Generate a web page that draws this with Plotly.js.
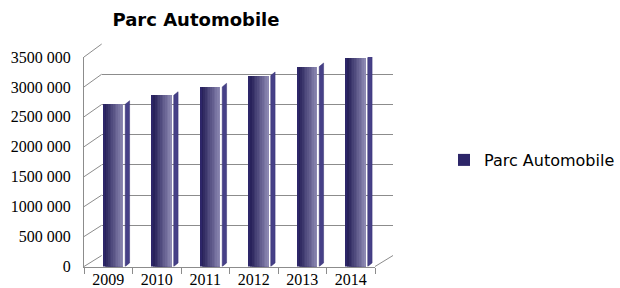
<!DOCTYPE html>
<html>
<head>
<meta charset="utf-8">
<script src="https://cdn.plot.ly/plotly-3.0.1.min.js"></script>
<style>html,body{margin:0;padding:0;background:#fff;}#chart{width:620px;height:288px;}</style>
</head>
<body>
<div id="chart"></div>
<script>
// ---- data ----
const years = ['2009', '2010', '2011', '2012', '2013', '2014'];
const parc = [2710000, 2860000, 3000000, 3190000, 3340000, 3490000];
const seriesName = 'Parc Automobile';
const yTickVals = [0, 500000, 1000000, 1500000, 2000000, 2500000, 3000000, 3500000];
const yTickText = ['0', '500 000', '1000 000', '1500 000', '2000 000', '2500 000', '3000 000', '3500 000'];

// ---- geometry (paper fractions) ----
const W = 620, H = 288;
const px = v => v / W, py = v => (H - v) / H;
const front = {x0: px(84), x1: px(375), y0: py(266.5), y1: py(57)};
const back = {x0: px(101.7), x1: px(393), y0: py(255.5), y1: py(44)};
const yMax = 3500000;

// gradient colors
const c0 = [30, 24, 82], c1 = [140, 136, 178];
const N = 12;
const off0 = -0.11, bw = 0.42;
const traces = [];
// invisible trace for back wall subplot
traces.push({x: [0], y: [0], xaxis: 'x', yaxis: 'y', type: 'scatter', mode: 'none', showlegend: false, hoverinfo: 'skip'});
for (let k = 0; k < N; k++) {
  const t = k / (N - 1);
  const col = 'rgb(' + c0.map((c, j) => Math.round(c + (c1[j] - c) * t)).join(',') + ')';
  traces.push({
    type: 'bar', x: years, y: parc, name: seriesName,
    xaxis: 'x2', yaxis: 'y2',
    offset: off0 + k * bw / N, width: bw - k * bw / N,
    marker: {color: k === 0 ? 'rgb(45,38,105)' : col, line: {width: 0}},
    showlegend: k === 0, hoverinfo: 'skip'
  });
}
// side faces (on an overlaying linear axis that matches the category positions)
const sx = [], sy = [];
const dv = 60000;
years.forEach((yr, i) => {
  sx.push(i + 0.35, i + 0.35, i + 0.44, i + 0.44, i + 0.35, null);
  sy.push(0, parc[i], parc[i] + dv, dv, 0, null);
});
traces.push({type: 'scatter', x: sx, y: sy, xaxis: 'x3', yaxis: 'y2', mode: 'lines', fill: 'toself',
  fillcolor: 'rgb(70,64,135)', line: {width: 0.5, color: 'rgb(55,48,115)'}, showlegend: false, hoverinfo: 'skip'});

// shapes: side wall diagonals + floor right edge
const shapes = [];
const gray = '#8c8c8c';
yTickVals.forEach(v => {
  const f = v / yMax;
  shapes.push({type: 'line', xref: 'paper', yref: 'paper', layer: 'below',
    x0: front.x0, y0: front.y0 + f * (front.y1 - front.y0),
    x1: back.x0, y1: back.y0 + f * (back.y1 - back.y0),
    line: {color: gray, width: 1}});
});
shapes.push({type: 'line', xref: 'paper', yref: 'paper', layer: 'below',
  x0: front.x1, y0: front.y0, x1: back.x1, y1: back.y0, line: {color: gray, width: 1}});

const serif = '"Liberation Serif", "Times New Roman", serif';
const layout = {
  width: W, height: H,
  margin: {l: 0, r: 0, t: 0, b: 0},
  paper_bgcolor: '#fff', plot_bgcolor: 'rgba(0,0,0,0)',
  showlegend: true,
  title: {text: 'Parc Automobile', x: px(196), xanchor: 'center', xref: 'paper', y: py(20), yanchor: 'middle',
    font: {family: 'DejaVu Sans', size: 18, color: '#000', weight: 'bold'}},
  xaxis: {domain: [back.x0, back.x1], anchor: 'y', range: [0, 1], showgrid: false, showline: false,
    zeroline: false, showticklabels: false, ticks: ''},
  yaxis: {domain: [back.y0, back.y1], anchor: 'x', range: [0, yMax], tickvals: yTickVals, showgrid: true,
    gridcolor: gray, gridwidth: 1, zeroline: false, showline: false, showticklabels: false, ticks: ''},
  xaxis2: {domain: [front.x0, front.x1], anchor: 'y2', type: 'category', range: [-0.5, 5.5],
    showgrid: false, zeroline: false, showline: true, linecolor: gray, linewidth: 1,
    ticks: 'outside', tickson: 'boundaries', ticklen: 6, tickcolor: gray, ticklabelstandoff: -2,
    tickfont: {family: serif, size: 16, color: '#000'}},
  xaxis3: {overlaying: 'x2', anchor: 'y2', type: 'linear', range: [-0.5, 5.5], visible: false},
  yaxis2: {domain: [front.y0, front.y1], anchor: 'x2', range: [0, yMax], tickvals: yTickVals, ticktext: yTickText,
    showgrid: false, zeroline: false, showline: true, linecolor: gray, linewidth: 1, ticks: '',
    ticklabelstandoff: 9, tickfont: {family: serif, size: 16, color: '#000'}},
  barmode: 'overlay', bargap: 0,
  legend: {x: px(444), xanchor: 'left', y: py(160), yanchor: 'middle', bgcolor: 'rgba(0,0,0,0)',
    font: {family: 'DejaVu Sans', size: 16, color: '#000'}},
  shapes: shapes
};
Plotly.newPlot('chart', traces, layout, {displayModeBar: false, staticPlot: true});
</script>
</body>
</html>
